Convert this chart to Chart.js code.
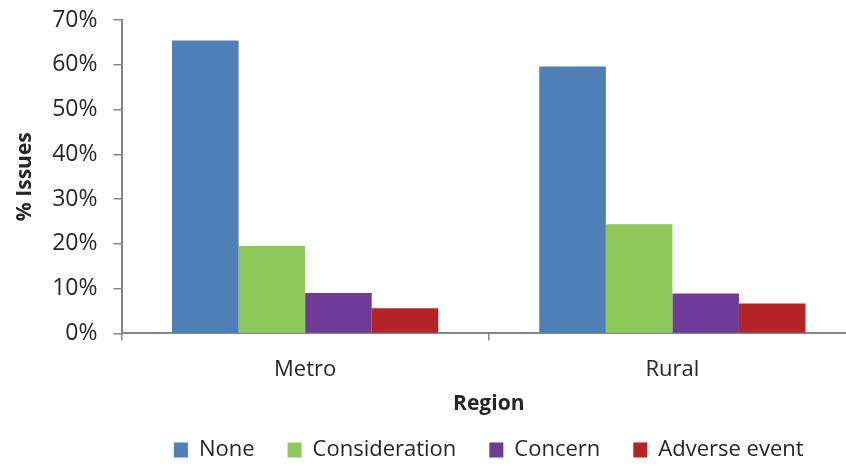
<!DOCTYPE html>
<html>
<head>
<meta charset="utf-8">
<script src="https://cdn.jsdelivr.net/npm/chart.js@4/dist/chart.umd.min.js"></script>
<style>
  html, body { margin: 0; padding: 0; background: #fff; overflow: hidden; }
  #wrap { width: 860px; height: 466px; position: relative; }
</style>
</head>
<body>
<div id="wrap"><canvas id="myChart"></canvas></div>
<script>
const regioes = ['Metro', 'Rural'];
const nomesSeries = ['None', 'Consideration', 'Concern', 'Adverse event'];
const valoresNone = [65.4, 59.6];
const valoresConsideration = [19.5, 24.4];
const valoresConcern = [9.0, 8.9];
const valoresAdverse = [5.6, 6.7];
const coresSeries = ['#4f7fb7', '#8fc85b', '#6e3c96', '#b72428'];

const fonte = "'Open Sans', sans-serif";
const corTexto = '#262626';
const corEixo = '#868686';

const dadosSeries = [valoresNone, valoresConsideration, valoresConcern, valoresAdverse];

// legenda do Chart.js deixa muito espaço, corta a altura e sobe os itens
const ajusteLegenda = {
  id: 'ajusteLegenda',
  beforeInit(chart) {
    const fitOriginal = chart.legend.fit;
    chart.legend.fit = function() {
      fitOriginal.bind(chart.legend)();
      this.height -= 30;
    };
  },
  afterLayout(chart) {
    chart.legend.top -= 19;
  }
};

const ctx = document.getElementById('myChart').getContext('2d');
new Chart(ctx, {
  type: 'bar',
  data: {
    labels: regioes,
    datasets: dadosSeries.map(function(valores, i) {
      return {
        label: nomesSeries[i],
        data: valores,
        backgroundColor: coresSeries[i],
        borderWidth: 0,
        barPercentage: 1,
        categoryPercentage: 0.725
      };
    })
  },
  options: {
    responsive: true,
    maintainAspectRatio: false,
    animation: false,
    layout: { padding: { top: 0, right: 4, left: 7, bottom: 6 } },
    plugins: {
      tooltip: { enabled: false },
      legend: {
        position: 'bottom',
        fullSize: false,
        labels: {
          boxWidth: 14,
          boxHeight: 15,
          padding: 33,
          color: corTexto,
          font: { family: fonte, size: 22 }
        }
      }
    },
    scales: {
      x: {
        offset: true,
        grid: { offset: true, drawOnChartArea: false, drawTicks: true, tickLength: 7, color: corEixo, lineWidth: 1.5 },
        border: { color: corEixo, width: 2 },
        ticks: { color: corTexto, font: { family: fonte, size: 22 }, padding: 16 },
        title: { display: true, text: 'Region', color: corTexto, font: { family: fonte, size: 21, weight: 'bold' }, padding: { top: -7, bottom: 8 } }
      },
      y: {
        min: 0,
        max: 70,
        afterFit: function(escala) {
          // o padding dos ticks empurra o topo do gráfico para baixo
          escala.paddingTop = 20;
        },
        ticks: {
          stepSize: 10,
          color: corTexto,
          font: { family: fonte, size: 23 },
          padding: 16,
          callback: function(v) { return v + '%'; }
        },
        grid: { drawOnChartArea: false, drawTicks: true, tickLength: 8, color: corEixo, lineWidth: 1.5 },
        border: { color: corEixo, width: 2 },
        title: { display: true, text: '% Issues', color: corTexto, font: { family: fonte, size: 21, weight: 'bold' }, padding: { top: 5, bottom: -1 } }
      }
    }
  },
  plugins: [ajusteLegenda]
});
</script>
</body>
</html>
